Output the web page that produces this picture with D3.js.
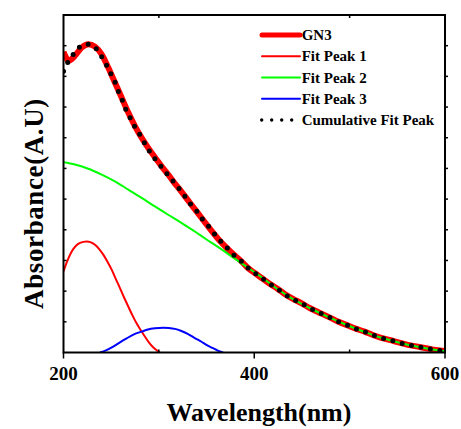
<!DOCTYPE html>
<html>
<head>
<meta charset="utf-8">
<script src="https://cdn.jsdelivr.net/npm/d3@7"></script>
<style>
	body { margin: 0; background: #fff; }
</style>
</head>
<body>
<div id="chart"></div>
<script>
// wavelength (nm), absorbance (A.U)
const gn3 = [
	[200, 9.80], [202.6, 9.62], [205, 9.50], [208, 9.55], [212, 9.67], [219.1, 9.94], [226, 10.05],
	[233, 9.97], [240, 9.72], [246.9, 9.29], [253.9, 8.80], [260.9, 8.31], [267.9, 7.82],
	[274.9, 7.38], [281.9, 7.00], [288.8, 6.67], [297.6, 6.29], [302.8, 6.07], [309.7, 5.80],
	[315, 5.58], [322, 5.31], [332.5, 4.88], [339.5, 4.60], [351.6, 4.11], [363.9, 3.64],
	[377.8, 3.21], [386.6, 2.97], [392.5, 2.78], [400.5, 2.59], [408.2, 2.42], [416.2, 2.24],
	[424.3, 2.08], [431.9, 1.91], [440.6, 1.75], [449.4, 1.61], [458.1, 1.45], [466.8, 1.32],
	[477.3, 1.17], [487.7, 1.01], [498.2, 0.88], [507, 0.77], [515.7, 0.68], [524.4, 0.57],
	[533.2, 0.48], [541.9, 0.41], [552.3, 0.32], [561, 0.25], [571.5, 0.19], [580.3, 0.14],
	[590.8, 0.08], [600, 0.05]
]
const fitPeak1 = [
	[200, 2.64], [203.7, 2.96], [208.6, 3.29], [213.1, 3.48], [217.3, 3.57], [224.3, 3.62],
	[228.8, 3.59], [233, 3.51], [237.2, 3.38], [241.7, 3.19], [246.1, 2.96], [250.5, 2.70],
	[254.8, 2.40], [259.2, 2.10], [263.4, 1.80], [267.9, 1.50], [272.3, 1.21], [276.6, 0.95],
	[281.2, 0.72], [285.3, 0.52], [289.5, 0.33], [294, 0.17], [297.9, 0.07], [301, 0.0]
]
const fitPeak2 = [
	[200, 6.20], [212, 6.13], [226, 5.99], [240, 5.80], [253.9, 5.58], [267.9, 5.31],
	[281.9, 5.04], [295.8, 4.76], [309.7, 4.49], [322, 4.26], [335.9, 3.98], [349.2, 3.70],
	[363.9, 3.40], [379.6, 3.06], [391.8, 2.80], [409.2, 2.42], [424.3, 2.07], [440.6, 1.74],
	[458.1, 1.45], [477.3, 1.16], [498.2, 0.88], [515.7, 0.67], [533.2, 0.48], [552.3, 0.32],
	[571.5, 0.19], [590.8, 0.08], [600, 0.04]
]
const fitPeak3 = [
	[238.2, 0], [244.5, 0.07], [252.1, 0.19], [259.2, 0.33], [266.2, 0.46], [273.8, 0.59],
	[281.9, 0.68], [288.5, 0.75], [295.8, 0.79], [304.5, 0.81], [310.5, 0.80], [316.8, 0.77],
	[323.6, 0.70], [330.7, 0.60], [337.7, 0.47], [344.7, 0.35], [350.8, 0.23], [356.9, 0.14],
	[361.8, 0.06], [367.3, 0]
]
const cumulativeFit = [
	[200, 9.17], [204.4, 9.45], [209.2, 9.67], [215.5, 9.92], [224.9, 10.05], [233, 9.94],
	[239, 9.69], [244.5, 9.40], [249.4, 9.10], [253.9, 8.82], [257.4, 8.52], [261.6, 8.23],
	[265.4, 7.92], [270.4, 7.62], [274.9, 7.35], [280.1, 7.10], [285.3, 6.81], [290.6, 6.54],
	[296.5, 6.29], [302.8, 6.05], [308.7, 5.82], [315, 5.58], [322, 5.31], [327.9, 5.07],
	[333.2, 4.84], [339.5, 4.62], [345.3, 4.36], [351.6, 4.13], [356.9, 3.92], [363.9, 3.66],
	[371.6, 3.41], [377.8, 3.20], [386.6, 2.97], [392.5, 2.78], [400.5, 2.59], [408.2, 2.42],
	[416.2, 2.24], [424.3, 2.08], [431.9, 1.90], [440.6, 1.74], [449.4, 1.61], [458.1, 1.45],
	[466.8, 1.32], [477.3, 1.17], [487.7, 1.01], [498.2, 0.88], [507, 0.77], [515.7, 0.68],
	[524.4, 0.57], [533.2, 0.48], [541.9, 0.41], [552.3, 0.32], [561, 0.25], [571.5, 0.19],
	[580.3, 0.14], [590.8, 0.08], [600, 0.05]
]
const xMajorTicks = [200, 400, 600]
const xMinorTicks = [300, 500]
const yTicks = [1, 2, 3, 4, 5, 6, 7, 8, 9, 10]
const legendNames = ['GN3', 'Fit Peak 1', 'Fit Peak 2', 'Fit Peak 3', 'Cumulative Fit Peak']

const W = 461, H = 429
const plot = { left: 63.5, right: 445, top: 15, bottom: 352.5 }
const serif = 'Liberation Serif'

const x = d3.scaleLinear().domain([200, 600]).range([plot.left, plot.right])
const y = d3.scaleLinear().domain([0, 11]).range([plot.bottom, plot.top])

const svg = d3.select('#chart').append('svg').attr('width', W).attr('height', H)

svg.append('defs').append('clipPath').attr('id', 'plotClip')
	.append('rect')
	.attr('x', plot.left).attr('y', plot.top)
	.attr('width', plot.right - plot.left).attr('height', plot.bottom - plot.top)

const line = d3.line()
	.x((d) => x(d[0]))
	.y((d) => y(d[1]))
	.curve(d3.curveMonotoneX)

const series = [
	{ data: gn3, color: '#ff0000', width: 6, dash: null },
	{ data: fitPeak1, color: '#ff0000', width: 2, dash: null },
	{ data: fitPeak2, color: '#00ff00', width: 2, dash: null },
	{ data: fitPeak3, color: '#0000ff', width: 2, dash: null },
	{ data: cumulativeFit, color: '#000000', width: 5, dash: '0 9.6' },
]

const lines = svg.append('g').attr('clip-path', 'url(#plotClip)')
series.forEach((s) => {
	lines.append('path')
		.attr('d', line(s.data))
		.attr('fill', 'none')
		.attr('stroke', s.color)
		.attr('stroke-width', s.width)
		.attr('stroke-linecap', s.dash ? 'round' : 'butt')
		.attr('stroke-linejoin', 'round')
		.attr('stroke-dasharray', s.dash)
})

// frame
svg.append('rect')
	.attr('x', plot.left).attr('y', plot.top)
	.attr('width', plot.right - plot.left).attr('height', plot.bottom - plot.top)
	.attr('fill', 'none').attr('stroke', '#000').attr('stroke-width', 2)

// x ticks: major outward, minor inward
const ticks = svg.append('g').attr('stroke', '#000').attr('stroke-width', 1.5)
xMajorTicks.forEach((t) => {
	ticks.append('line').attr('x1', x(t)).attr('x2', x(t)).attr('y1', plot.bottom).attr('y2', plot.bottom + 6)
})
xMinorTicks.forEach((t) => {
	ticks.append('line').attr('x1', x(t)).attr('x2', x(t)).attr('y1', plot.bottom).attr('y2', plot.bottom - 3)
	ticks.append('line').attr('x1', x(t)).attr('x2', x(t)).attr('y1', plot.top).attr('y2', plot.top + 3)
})
yTicks.forEach((t) => {
	ticks.append('line').attr('x1', plot.left).attr('x2', plot.left + 3).attr('y1', y(t)).attr('y2', y(t))
	ticks.append('line').attr('x1', plot.right).attr('x2', plot.right + 3).attr('y1', y(t)).attr('y2', y(t))
})

svg.append('g').selectAll('text')
	.data(xMajorTicks)
	.enter()
	.append('text')
	.attr('x', (d) => x(d))
	.attr('y', 380)
	.attr('text-anchor', 'middle')
	.attr('font-family', serif)
	.attr('font-weight', 'bold')
	.attr('font-size', 19)
	.text((d) => d)

svg.append('text')
	.attr('x', 259).attr('y', 420.5)
	.attr('text-anchor', 'middle')
	.attr('font-family', serif)
	.attr('font-weight', 'bold')
	.attr('font-size', 26)
	.text('Wavelength(nm)')

svg.append('text')
	.attr('transform', 'translate(42.5,203.5) rotate(-90)')
	.attr('text-anchor', 'middle')
	.attr('font-family', serif)
	.attr('font-weight', 'bold')
	.attr('font-size', 27)
	.attr('letter-spacing', 0.6)
	.text('Absorbance(A.U)')

// legend
const legend = svg.append('g')
legendNames.forEach((name, i) => {
	const s = series[i]
	const ly = 35 + i * 21.25
	legend.append('line')
		.attr('x1', s.dash ? 261.7 : 262).attr('x2', s.dash ? 293 : 300)
		.attr('y1', ly).attr('y2', ly)
		.attr('stroke', s.color)
		.attr('stroke-width', s.dash ? 3.4 : (s.width > 3 ? 5 : 2))
		.attr('stroke-linecap', 'round')
		.attr('stroke-dasharray', s.dash ? '0 10' : null)
	legend.append('text')
		.attr('x', 301.7).attr('y', ly + 5)
		.attr('font-family', serif)
		.attr('font-weight', 'bold')
		.attr('font-size', 15)
		.text(name)
})
</script>
</body>
</html>
